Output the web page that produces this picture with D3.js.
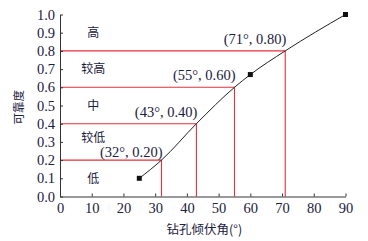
<!DOCTYPE html>
<html><head><meta charset="utf-8">
<script src="https://cdn.jsdelivr.net/npm/d3@7"></script>
<style>
body{margin:0;background:#fff;}
svg{display:block;}
</style></head>
<body><svg id="c" width="368" height="241"></svg>
<script>
const curveX = [25, 32, 43, 55, 60, 71, 90];
const curveY = [0.10, 0.20, 0.40, 0.60, 0.67, 0.80, 1.00];
const markerX = [25, 60, 90];
const markerY = [0.10, 0.67, 1.00];
const thrX = [32, 43, 55, 71];
const thrY = [0.20, 0.40, 0.60, 0.80];
const thrLabels = ["(32°, 0.20)", "(43°, 0.40)", "(55°, 0.60)", "(71°, 0.80)"];
const zoneNames = ["低", "较低", "中", "较高", "高"];
const zoneY = [0.10, 0.32, 0.50, 0.70, 0.90];
const xTicks = [0,10,20,30,40,50,60,70,80,90];
const yTicks = [0,0.1,0.2,0.3,0.4,0.5,0.6,0.7,0.8,0.9,1.0];
const xTitle = "钻孔倾伏角(°)";
const yTitle = "可靠度";

const svg = d3.select("#c");
const x = d3.scaleLinear().domain([0, 90]).range([60, 345.5]);
const y = d3.scaleLinear().domain([0, 1]).range([196.5, 14.5]);
const serif = "'Liberation Serif','Times New Roman',serif";
const cjk = "'Noto Sans CJK SC','Noto Sans',sans-serif";
const txt = "#1a2040";
const red = "#e8303c";

// threshold lines
thrX.forEach((vx, i) => {
  svg.append("path")
    .attr("d", `M${x(0)},${y(thrY[i])}H${x(vx)}V${y(0)}`)
    .attr("fill", "none").attr("stroke", red).attr("stroke-width", 1.1);
});

// axes
const xa = svg.append("g").attr("transform", `translate(0,${y(0)})`)
  .call(d3.axisBottom(x).tickValues(xTicks).tickSizeInner(-3).tickSizeOuter(0).tickPadding(7).tickFormat(d3.format("d")));
const ya = svg.append("g").attr("transform", `translate(${x(0)},0)`)
  .call(d3.axisLeft(y).tickValues(yTicks).tickSizeInner(-3).tickSizeOuter(0).tickPadding(5).tickFormat(d3.format(".1f")));
[xa, ya].forEach(a => {
  a.select(".domain").attr("stroke", "#333");
  a.selectAll(".tick line").attr("stroke", "#333");
  a.selectAll("text").attr("font-family", serif).attr("font-size", 14.5).attr("fill", txt);
});
xa.selectAll("text").attr("dy", "0.68em");

// curve
svg.append("path")
  .datum(curveX.map((d, i) => [d, curveY[i]]))
  .attr("d", d3.line().x(d => x(d[0])).y(d => y(d[1])).curve(d3.curveMonotoneX))
  .attr("fill", "none").attr("stroke", "#222").attr("stroke-width", 1);

// markers
svg.selectAll("rect.m").data(markerX).join("rect").attr("class", "m")
  .attr("x", (d) => x(d) - 2.5).attr("y", (d, i) => y(markerY[i]) - 2.5)
  .attr("width", 5).attr("height", 5).attr("fill", "#111");

// threshold labels
svg.selectAll("text.t").data(thrLabels).join("text").attr("class", "t")
  .attr("x", (d, i) => x(thrX[i]) + 1)
  .attr("y", (d, i) => y(thrY[i]) - (i === 0 ? 3 : 7))
  .attr("text-anchor", "end")
  .attr("font-family", serif).attr("font-size", 14.5).attr("fill", txt)
  .text(d => d);

// zone labels
svg.selectAll("text.z").data(zoneNames).join("text").attr("class", "z")
  .attr("x", x(10.5)).attr("y", (d, i) => y(zoneY[i]))
  .attr("dy", "0.35em").attr("text-anchor", "middle")
  .attr("font-family", cjk).attr("font-size", 12).attr("fill", txt)
  .text(d => d);

// titles
svg.append("text").attr("x", x(45.5)).attr("y", 234).attr("text-anchor", "middle")
  .attr("font-family", cjk).attr("font-size", 12.5).attr("fill", txt).text(xTitle);
svg.append("text").attr("transform", `translate(23,${y(0.49)}) rotate(-90)`)
  .attr("text-anchor", "middle")
  .attr("font-family", cjk).attr("font-size", 11.5).attr("fill", txt).text(yTitle);
</script></body></html>
